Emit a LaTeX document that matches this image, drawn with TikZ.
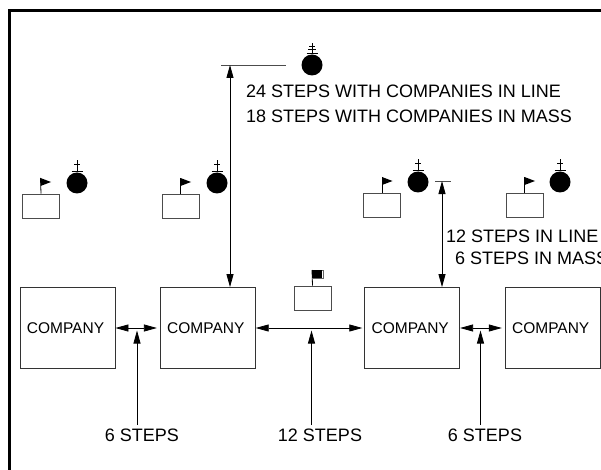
\documentclass[tikz,border=0pt]{standalone}
\usepackage{fontspec}
\setmainfont{Liberation Sans}
\usetikzlibrary{arrows.meta}
\tikzset{
  company/.style={rectangle, draw=black!80, line width=0.8pt, minimum width=95pt, minimum height=81pt,
             inner sep=0pt, font=\fontsize{15.5}{19}\selectfont, execute at end node={\hspace*{4pt}}},
  platoon/.style={rectangle, draw=black!70, line width=0.8pt, minimum width=37pt, minimum height=24pt, inner sep=0pt},
  leader/.style={circle, fill=black, minimum size=21pt, inner sep=0pt},
  staff/.style={line width=0.8pt, draw=black},
  flagtip/.style={fill=black},
  tick/.style={line width=0.7pt, draw=black!70},
  dist/.style={line width=0.8pt, draw=black, {Triangle[length=13pt,width=7pt]}-{Triangle[length=13pt,width=7pt]}},
  lead/.style={line width=0.8pt, draw=black, -{Triangle[length=13pt,width=7pt]}},
  steptext/.style={font=\fontsize{18}{21}\selectfont, inner sep=0pt},
}
\begin{document}
\begin{tikzpicture}[x=1pt, y=-1pt]
\useasboundingbox (0,0) rectangle (601,470);
\draw[line width=2.4pt] (9.5,470) -- (9.5,10.5) -- (601,10.5);
% companies
\node[company] (co1) at (67.5,328) {COMPANY};
\node[company] (co2) at (207.8,328) {COMPANY};
\node[company] (co3) at (412.2,328) {COMPANY};
\node[company] (co4) at (552.7,328) {COMPANY};
% guidons
\node[platoon] (pl1) at (41,206) {};
\node[platoon] (pl2) at (180.5,206) {};
\node[platoon] (pl3) at (382,205) {};
\node[platoon] (pl4) at (524.5,205) {};
\node[platoon] (pl5) at (312.5,298) {};
\draw[staff] (pl1.north) -- (40.5,178);
\fill[flagtip] (40.5,178) -- (51,182) -- (40.5,186) -- cycle;
\draw[staff] (pl2.north) -- (180.5,178);
\fill[flagtip] (180.5,178) -- (191,182) -- (180.5,186) -- cycle;
\draw[staff] (pl3.north) -- (382,177);
\fill[flagtip] (382,177) -- (392.5,181) -- (382,185) -- cycle;
\draw[staff] (pl4.north) -- (524.5,177);
\fill[flagtip] (524.5,177) -- (535,181) -- (524.5,185) -- cycle;
\draw[staff] (pl5.north) -- (312,270);
\draw[line width=0.6pt, draw=black!60, fill=white] (312,270) rectangle (323.5,278);
\fill[black] (311.5,269.5) rectangle (322,278);
% leaders
\node[leader] (ld1) at (77,183) {};
\node[leader] (ld2) at (217,183) {};
\node[leader] (ld3) at (418,182) {};
\node[leader] (ld4) at (560,182) {};
\node[leader] (ld5) at (312,65) {};
\draw[staff] (ld1.north) -- (77,160) (74,164) -- (80,164) (71.5,171) -- (82.5,171);
\draw[staff] (ld2.north) -- (217,160) (214,164) -- (220,164) (211.5,171) -- (222.5,171);
\draw[staff] (ld3.north) -- (418,159) (415,163) -- (421,163) (412.5,170) -- (423.5,170);
\draw[staff] (ld4.north) -- (560,159) (557,163) -- (563,163) (554.5,170) -- (565.5,170);
\draw[staff] (ld5.north) -- (312,43) (309,46) -- (315,46) (308,49.5) -- (316,49.5) (306.5,53) -- (317.5,53);
% depth
\coordinate (topl) at (221,65);
\coordinate (topr) at (286,65);
\coordinate (topa) at (230,65);
\coordinate (sidel) at (435,181);
\coordinate (sider) at (451,181);
\coordinate (sidea) at (442,181);
\draw[tick] (topl) -- (topr);
\draw[tick] (sidel) -- (sider);
\draw[dist] (topa) -- (topa |- co2.north);
\draw[dist] (sidea) -- (sidea |- co3.north);
\node[steptext, anchor=west] (dp1) at (246,91) {24 STEPS WITH COMPANIES IN LINE};
\node[steptext, anchor=west] (dp2) at (246,116) {18 STEPS WITH COMPANIES IN MASS};
\node[steptext, anchor=west] (dp3) at (446,236) {12 STEPS IN LINE};
\node[steptext, anchor=west] (dp4) at (455,258) {6 STEPS IN MASS};
% intervals
\draw[dist, shorten >=3pt] (co1.east) -- (co2.west);
\draw[dist, shorten >=2pt] (co2.east) -- (co3.west);
\draw[dist, shorten >=3pt] (co3.east) -- (co4.west);
\node[steptext] (iv1) at (142,435.5) {6 STEPS};
\node[steptext] (iv2) at (320,435.5) {12 STEPS};
\node[steptext] (iv3) at (485,435.5) {6 STEPS};
\coordinate (fr1) at (137,425);
\coordinate (to1) at (137,330.5);
\coordinate (fr2) at (311.5,425);
\coordinate (to2) at (311.5,330.5);
\coordinate (fr3) at (480.5,425);
\coordinate (to3) at (480.5,330.5);
\draw[lead] (fr1) -- (to1);
\draw[lead] (fr2) -- (to2);
\draw[lead] (fr3) -- (to3);
\end{tikzpicture}
\end{document}
